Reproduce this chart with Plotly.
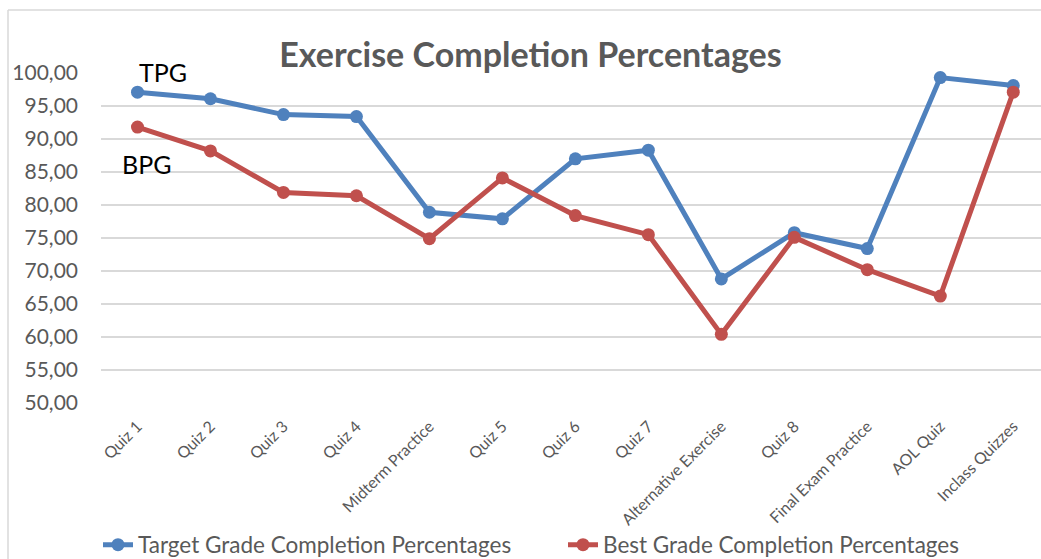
import plotly.graph_objects as go

categories = ["Quiz 1", "Quiz 2", "Quiz 3", "Quiz 4", "Midterm Practice", "Quiz 5",
              "Quiz 6", "Quiz 7", "Alternative Exercise", "Quiz 8",
              "Final Exam Practice", "AOL Quiz", "Inclass Quizzes"]
target_grade = [97.1, 96.1, 93.7, 93.4, 78.9, 77.9, 87.0, 88.3, 68.8, 75.8, 73.4, 99.3, 98.1]
best_grade = [91.8, 88.2, 81.9, 81.4, 74.9, 84.1, 78.4, 75.5, 60.4, 75.1, 70.2, 66.2, 97.1]
y_ticks = [50, 55, 60, 65, 70, 75, 80, 85, 90, 95, 100]

BLUE = "#4F81BD"
RED = "#C0504D"
GREY = "#595959"
FONT = "Lato"

W, H = 1041, 559
ML, MT, MB = 101, 73, 156
PW, PH = W - ML, H - MT - MB

fig = go.Figure()
fig.add_trace(go.Scatter(
    x=categories, y=target_grade, mode="lines+markers",
    name="Target Grade Completion Percentages",
    line=dict(color=BLUE, width=5), marker=dict(color=BLUE, size=13),
    cliponaxis=False,
))
fig.add_trace(go.Scatter(
    x=categories, y=best_grade, mode="lines+markers",
    name="Best Grade Completion Percentages",
    line=dict(color=RED, width=5), marker=dict(color=RED, size=13),
    cliponaxis=False,
))

fig.add_annotation(x=categories[0], y=target_grade[0], text="TPG", showarrow=False,
                   xanchor="left", yanchor="bottom", xshift=0, yshift=3,
                   font=dict(family=FONT, size=25, color="black"))
fig.add_annotation(x=categories[0], y=best_grade[0], text="BPG", showarrow=False,
                   xanchor="left", yanchor="top", xshift=-17, yshift=-20,
                   font=dict(family=FONT, size=25, color="black"))

border_x = (8 - ML) / PW
border_y = 1 + (MT - 10) / PH

fig.update_layout(
    width=W, height=H,
    margin=dict(l=ML, r=0, t=MT, b=MB, autoexpand=False),
    paper_bgcolor="white", plot_bgcolor="white",
    separators=",.",
    title=dict(text="<b>Exercise Completion Percentages</b>", x=0.5096, xanchor="center",
               y=0.9016, yanchor="middle",
               font=dict(family=FONT, size=34, color=GREY)),
    showlegend=True,
    legend=dict(orientation="h", xref="container", yref="container",
                x=98 / W, xanchor="left", y=1 - 545 / H, yanchor="middle",
                entrywidth=420, entrywidthmode="pixels",
                font=dict(family=FONT, size=22.5, color=GREY),
                bgcolor="rgba(0,0,0,0)", tracegroupgap=0),
    xaxis=dict(range=[-0.5, 12.38], tickangle=-45, showgrid=False, showline=False,
               ticks="", ticklabelstandoff=10, automargin=False,
               tickfont=dict(family=FONT, size=16, color=GREY)),
    yaxis=dict(range=[50, 100], tickvals=y_ticks, tickformat=".2f",
               showgrid=True, gridcolor="#D9D9D9", gridwidth=1.5, automargin=False,
               zeroline=False, showline=False, ticks="", ticklabelstandoff=22,
               tickfont=dict(family=FONT, size=21, color=GREY)),
    shapes=[dict(type="line", xref="paper", yref="paper",
                 x0=border_x, x1=1.05, y0=border_y, y1=border_y,
                 line=dict(color="#D9D9D9", width=1.5)),
            dict(type="line", xref="paper", yref="paper",
                 x0=border_x, x1=border_x, y0=-1, y1=border_y,
                 line=dict(color="#D9D9D9", width=1.5))],
)

fig.write_html("out.html",
               config={"displayModeBar": False},
               post_script="document.body.style.margin='0';"
                           "document.body.style.overflow='hidden';"
                           "document.documentElement.style.overflow='hidden';")
